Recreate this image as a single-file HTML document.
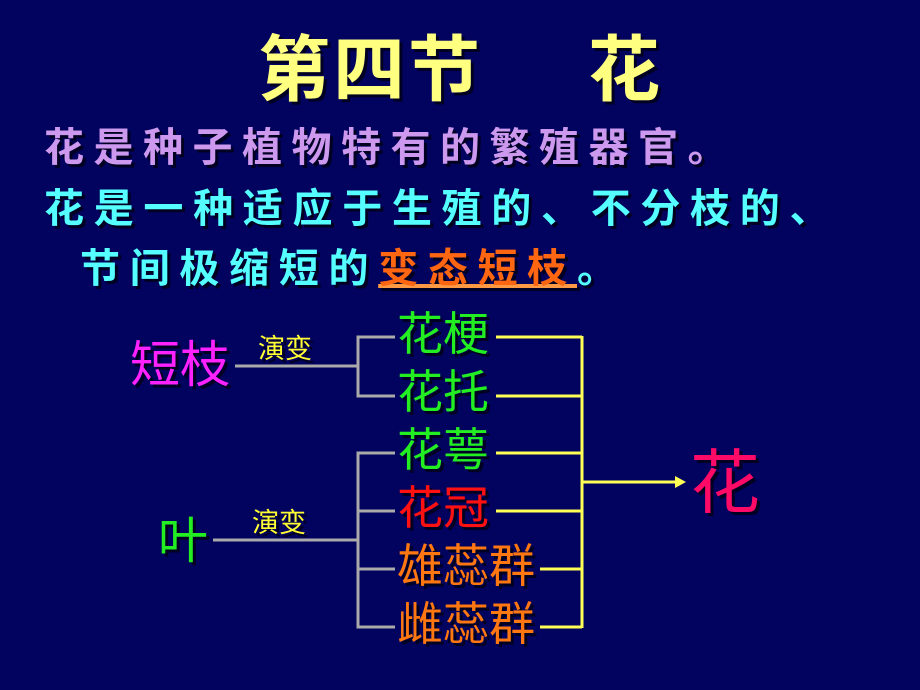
<!DOCTYPE html>
<html><head><meta charset="utf-8"><style>
html,body{margin:0;padding:0}
body{width:920px;height:690px;background:#02025f;position:relative;overflow:hidden;font-family:"Liberation Sans","Noto Sans CJK SC",sans-serif}
.t{position:absolute;white-space:nowrap;line-height:1}
.sh{text-shadow:3px 3px 0 #000022}
.b{font-weight:bold;font-family:"Noto Sans CJK SC","WenQuanYi Zen Hei",sans-serif}
</style></head><body>
<div class="t b sh" style="left:258px;top:28px;font-size:72px;color:#ffff80;letter-spacing:3px;">第四节</div>
<div class="t b sh" style="left:588px;top:28px;font-size:72px;color:#ffff80;">花</div>
<div class="t b sh" style="left:44px;top:124px;font-size:40px;color:#cc99ee;letter-spacing:9.5px;">花是种子植物特有的繁殖器官。</div>
<div class="t b sh" style="left:44px;top:185px;font-size:40px;color:#55ffff;letter-spacing:9.7px;">花是一种适应于生殖的、不分枝的、</div>
<div class="t b sh" style="left:80px;top:245px;font-size:40px;color:#55ffff;letter-spacing:9.7px;">节间极缩短的<span style="color:#ff6611;text-decoration:underline;text-decoration-color:#ff9944;">变态短枝</span>。</div>

<svg width="920" height="690" style="position:absolute;left:0;top:0">
<g stroke="#aaaaaa" stroke-width="3" fill="none">
<line x1="235" y1="366" x2="358" y2="366"/>
<polyline points="395,337 358,337 358,396 395,396"/>
<line x1="213" y1="540" x2="358" y2="540"/>
<polyline points="395,453 358,453 358,627 395,627"/>
<line x1="358" y1="511" x2="395" y2="511"/>
<line x1="358" y1="569" x2="395" y2="569"/>
</g>
<g stroke="#ffff55" stroke-width="3" fill="none">
<line x1="496" y1="337" x2="582" y2="337"/>
<line x1="496" y1="396" x2="582" y2="396"/>
<line x1="496" y1="453" x2="582" y2="453"/>
<line x1="496" y1="511" x2="582" y2="511"/>
<line x1="540" y1="569" x2="582" y2="569"/>
<line x1="540" y1="627" x2="582" y2="627"/>
<line x1="582" y1="336" x2="582" y2="628"/>
<line x1="582" y1="482" x2="676" y2="482"/>
</g>
<polygon points="686,482 675,476 675,488" fill="#ffff55"/>
</svg>

<div class="t sh" style="left:130px;top:340px;font-size:50px;color:#ff22ff;">短枝</div>
<div class="t sh" style="left:258px;top:336px;font-size:27px;color:#ffff33;">演变</div>
<div class="t sh" style="left:158px;top:516px;font-size:50px;color:#22ee22;">叶</div>
<div class="t sh" style="left:252px;top:510px;font-size:27px;color:#ffff33;">演变</div>
<div class="t sh" style="left:397px;top:311px;font-size:46px;color:#22ee22;">花梗</div>
<div class="t sh" style="left:397px;top:369px;font-size:46px;color:#22ee22;">花托</div>
<div class="t sh" style="left:397px;top:427px;font-size:46px;color:#22ee22;">花萼</div>
<div class="t sh" style="left:397px;top:485px;font-size:46px;color:#ff1111;">花冠</div>
<div class="t sh" style="left:397px;top:543px;font-size:46px;color:#ff7711;">雄蕊群</div>
<div class="t sh" style="left:397px;top:601px;font-size:46px;color:#ff7711;">雌蕊群</div>
<div class="t sh" style="left:690px;top:448px;font-size:70px;color:#ff0a66;">花</div>
</body></html>
